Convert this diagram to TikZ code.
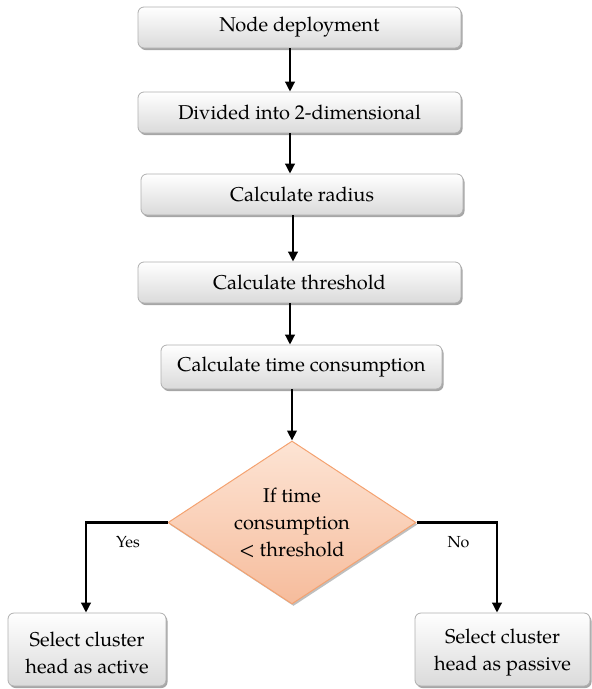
\documentclass[tikz,border=0pt]{standalone}
\usepackage{fontspec}
\setmainfont{TeX Gyre Pagella}
\usetikzlibrary{shapes.geometric,arrows.meta,shadows}

\definecolor{boxtop}{RGB}{255,255,255}
\definecolor{boxbot}{RGB}{218,218,218}
\definecolor{boxedge}{RGB}{175,175,175}
\definecolor{dtop}{RGB}{253,228,212}
\definecolor{dbot}{RGB}{246,188,156}
\definecolor{dedge}{RGB}{244,162,112}

\tikzset{
  stepbox/.style={draw=boxedge, line width=0.8pt, rounded corners=6pt,
    top color=boxtop, bottom color=boxbot, inner sep=2pt, align=center,
    font=\fontsize{20}{27}\selectfont,
    drop shadow={shadow xshift=1.5pt, shadow yshift=-2pt, opacity=0.35, fill=black}},
  boxtext/.style={align=center, inner sep=0pt, font=\fontsize{20}{27}\selectfont},
  decision/.style={diamond, draw=dedge, line width=1pt, top color=dtop,
    bottom color=dbot, inner sep=0pt, align=center, shape aspect=1.52,
    minimum width=248pt, minimum height=163pt,
    font=\fontsize{20}{27}\selectfont,
    drop shadow={shadow xshift=1.5pt, shadow yshift=-2pt, opacity=0.25, fill=black}},
  arr/.style={line width=2.3pt, -{Triangle[length=10pt,width=9.5pt]}},
  branchlabel/.style={font=\fontsize{16}{18}\selectfont}
}

\begin{document}
\begin{tikzpicture}[x=1pt, y=-1pt]
  \useasboundingbox (0,0) rectangle (592,689);

  % process steps
  \node[stepbox, minimum width=323pt, minimum height=41pt] (n1) at (299.5,27.5) {Node deployment};
  \node[stepbox, minimum width=323pt, minimum height=41pt] (n2) at (299.5,112.5) {Divided into 2-dimensional};
  \node[stepbox, minimum width=322pt, minimum height=41pt] (n3) at (302,194.5) {Calculate radius};
  \node[stepbox, minimum width=323pt, minimum height=41pt] (n4) at (299.5,282.5) {Calculate threshold};
  \node[stepbox, minimum width=281pt, minimum height=44pt] (n5) at (301.5,367) {Calculate time consumption};

  % decision
  \node[decision] (d) at (292,522.5) {If time\\consumption\\< threshold};

  % outcomes (text sits slightly below the box centre)
  \node[stepbox, minimum width=158pt, minimum height=73pt] (act) at (87,649.5) {};
  \node[boxtext] (actt) at (87,653) {Select cluster\\head as active};
  \node[stepbox, minimum width=175pt, minimum height=73pt] (pas) at (502.5,649.5) {};
  \node[boxtext] (past) at (502.5,653) {Select cluster\\head as passive};

  % connector lanes
  \coordinate (xa) at (290,0);
  \coordinate (xb) at (293,0);
  \coordinate (xl) at (86,0);
  \coordinate (xr) at (497,0);

  \draw[arr] (n1.south -| xa) -- (n2.north -| xa);
  \draw[arr] (n2.south -| xa) -- (n3.north -| xa);
  \draw[arr] (n3.south -| xb) -- (n4.north -| xb);
  \draw[arr] (n4.south -| xa) -- (n5.north -| xa);
  \draw[arr] (n5.south -| d.north) -- (d.north);

  \draw[arr] (d.west) -| (act.north -| xl);
  \draw[arr] (d.east) -| (pas.north -| xr);

  \node[branchlabel] (yes) at (128,542) {Yes};
  \node[branchlabel] (no) at (458.5,542) {No};
\end{tikzpicture}
\end{document}
